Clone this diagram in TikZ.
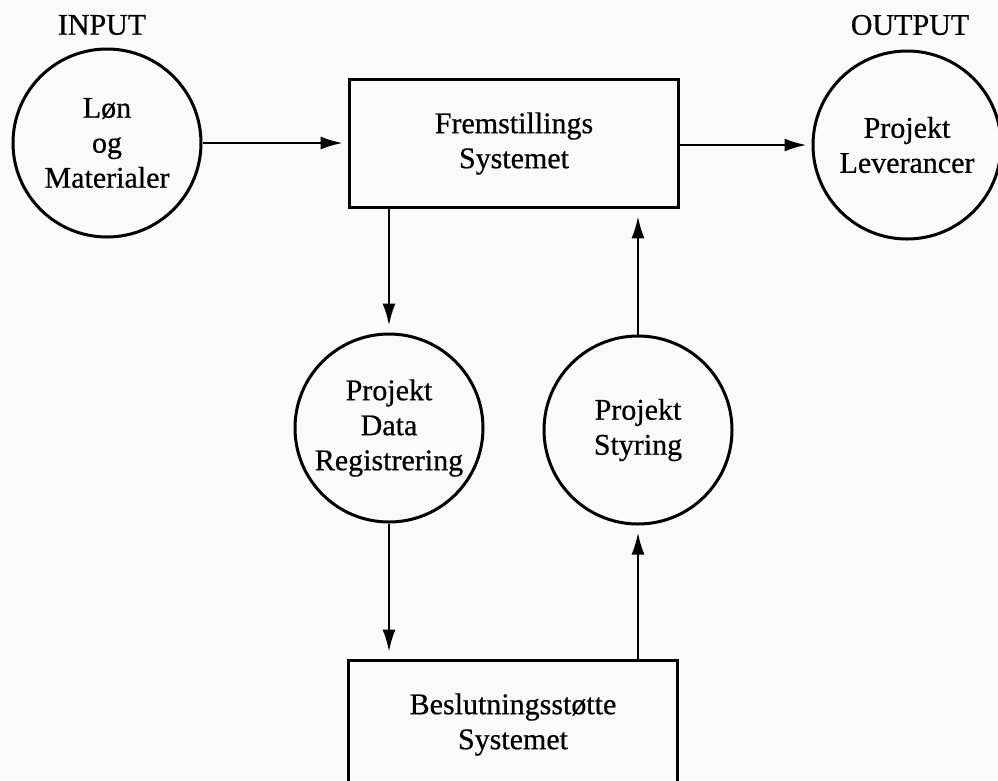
\documentclass[tikz,border=0pt]{standalone}
\usepackage{fontspec}
\setmainfont{Liberation Serif}[FakeBold=0.6]
\usetikzlibrary{arrows.meta}
\begin{document}
\begin{tikzpicture}[x=1pt,y=-1pt,
  every node/.style={font=\fontsize{30}{35}\selectfont, align=center},
  proc/.style={circle, draw, line width=3pt, minimum size=188pt, inner sep=0pt},
  sysbox/.style={draw, line width=3.6pt, minimum width=329pt, minimum height=128pt, inner sep=0pt},
  arr/.style={-{Latex[length=22pt,width=13pt]}, line width=2.4pt, shorten >=5pt},
  varr/.style={arr, shorten >=7pt}]
% paper background and page frame
\fill[white!98!black] (0,0) rectangle (998,780);
\clip (0,0) rectangle (998,780);

% column headings
\node (inlbl)  at (102,25) {INPUT};
\node (outlbl) at (910,25) {OUTPUT};

% processes and systems
\node[proc]   (lm)  at (107,143)   {Løn\\og\\Materialer};
\node[proc]   (pl)  at (907,145)   {Projekt\\Leverancer};
\node[sysbox] (fs)  at (514,143.5) {Fremstillings\\Systemet};
\node[proc]   (reg) at (389,428)   {Projekt\\Data\\Registrering};
\node[proc]   (sty) at (638,430)   {Projekt\\Styring};
\node[sysbox] (bs)  at (513,724.5) {Beslutningsstøtte\\Systemet};

% flows
\draw[arr]  (lm.east) -- (lm.east -| fs.west);
\draw[arr]  (pl.west -| fs.east) -- (pl.west);
\draw[varr] (fs.south -| reg.north) -- (reg.north);
\draw[varr] (sty.north) -- (sty.north |- fs.south);
\draw[varr] (reg.south) -- (reg.south |- bs.north);
\draw[varr] (bs.north -| sty.south) -- (sty.south);
\end{tikzpicture}
\end{document}
